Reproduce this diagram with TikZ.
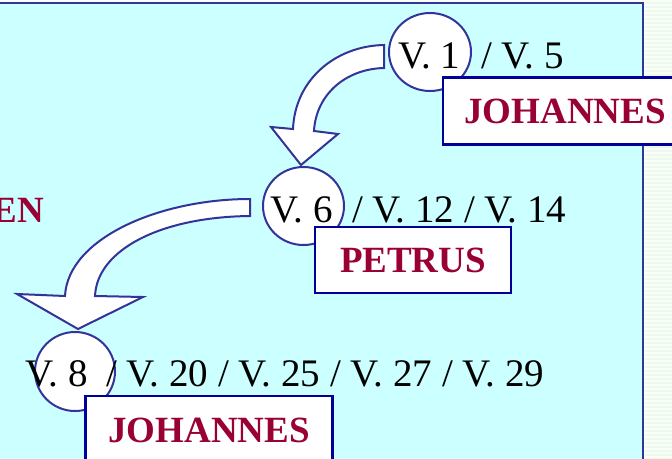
\documentclass[tikz,border=0pt]{standalone}
\usepackage{fontspec}
\setmainfont{Liberation Serif}
\usetikzlibrary{shapes.geometric}
\definecolor{panel}{HTML}{CCFFFF}
\definecolor{frame}{HTML}{333399}
\definecolor{boxline}{HTML}{000099}
\definecolor{namered}{HTML}{990033}
\definecolor{side}{HTML}{F7FFF7}
\definecolor{sidestripe}{HTML}{EEF8EE}
\begin{document}
\begin{tikzpicture}[x=1pt,y=-1pt,
  vtext/.style={font=\fontsize{39}{42}\selectfont, inner sep=0pt, anchor=base west, text=black},
  vcirc/.style={ellipse, draw=frame, fill=white, line width=2pt, inner sep=0pt},
  namebox/.style={draw=boxline, fill=white, line width=2.4pt, inner sep=0pt,
                  font=\fontsize{37}{40}\selectfont\bfseries, text=namered},
  blockarrow/.style={draw=frame, fill=white, line width=2pt, line join=miter}]
\useasboundingbox (0,0) rectangle (672,458);
\clip (0,0) rectangle (672,458);
% background and side strip
\fill[side] (0,0) rectangle (672,458);
\foreach \yy in {2,6,...,458} \fill[sidestripe] (645,\yy) rectangle (672,\yy+1.5);
% panel
\filldraw[fill=panel, draw=frame, line width=2pt] (-20,3) rectangle (643,480);
% circles
\node[vcirc, minimum width=82pt, minimum height=78pt] (c1) at (430,52) {};
\node[vcirc, minimum width=81pt, minimum height=78pt] (c6) at (303.5,206) {};
\node[vcirc, minimum width=80pt, minimum height=79pt] (c8) at (75,371.5) {};
% block arrows
\filldraw[blockarrow] (384,45) .. controls (335,46) and (295,80) .. (293,129)
  -- (271,127) -- (301,165) -- (338,134) -- (314,131)
  .. controls (316,95) and (345,69) .. (384,68) -- cycle;
\filldraw[blockarrow] (250,199) .. controls (160,199) and (68,238) .. (65,296)
  -- (17,294) -- (78,329) -- (143,297) -- (95,296)
  .. controls (97,250) and (160,217) .. (250,216) -- cycle;
% name boxes
\node[namebox, minimum width=244pt, minimum height=67pt] (joh1) at (565,111) {JOHANNES};
\node[namebox, minimum width=196pt, minimum height=66pt] (petrus) at (413,260) {PETRUS};
\node[namebox, minimum width=247pt, minimum height=68pt] (joh2) at (209,430) {JOHANNES};
% left clipped label
\node[inner sep=0pt, anchor=base east, font=\fontsize{37}{40}\selectfont\bfseries, text=namered] (en) at (44,222) {EN};
% verse texts
\node[vtext] (t1) at (398,68) {V. 1};
\node[vtext] (t1r) at (481,68) {/ V. 5};
\node[vtext] (t6) at (270.5,222) {V. 6};
\node[vtext] (t6r) at (352,222) {/ V. 12 / V. 14};
\node[vtext] (t8) at (25.5,386) {V. 8};
\node[vtext] (t8r) at (106,386) {/ V. 20 / V. 25 / V. 27 / V. 29};
\end{tikzpicture}
\end{document}
